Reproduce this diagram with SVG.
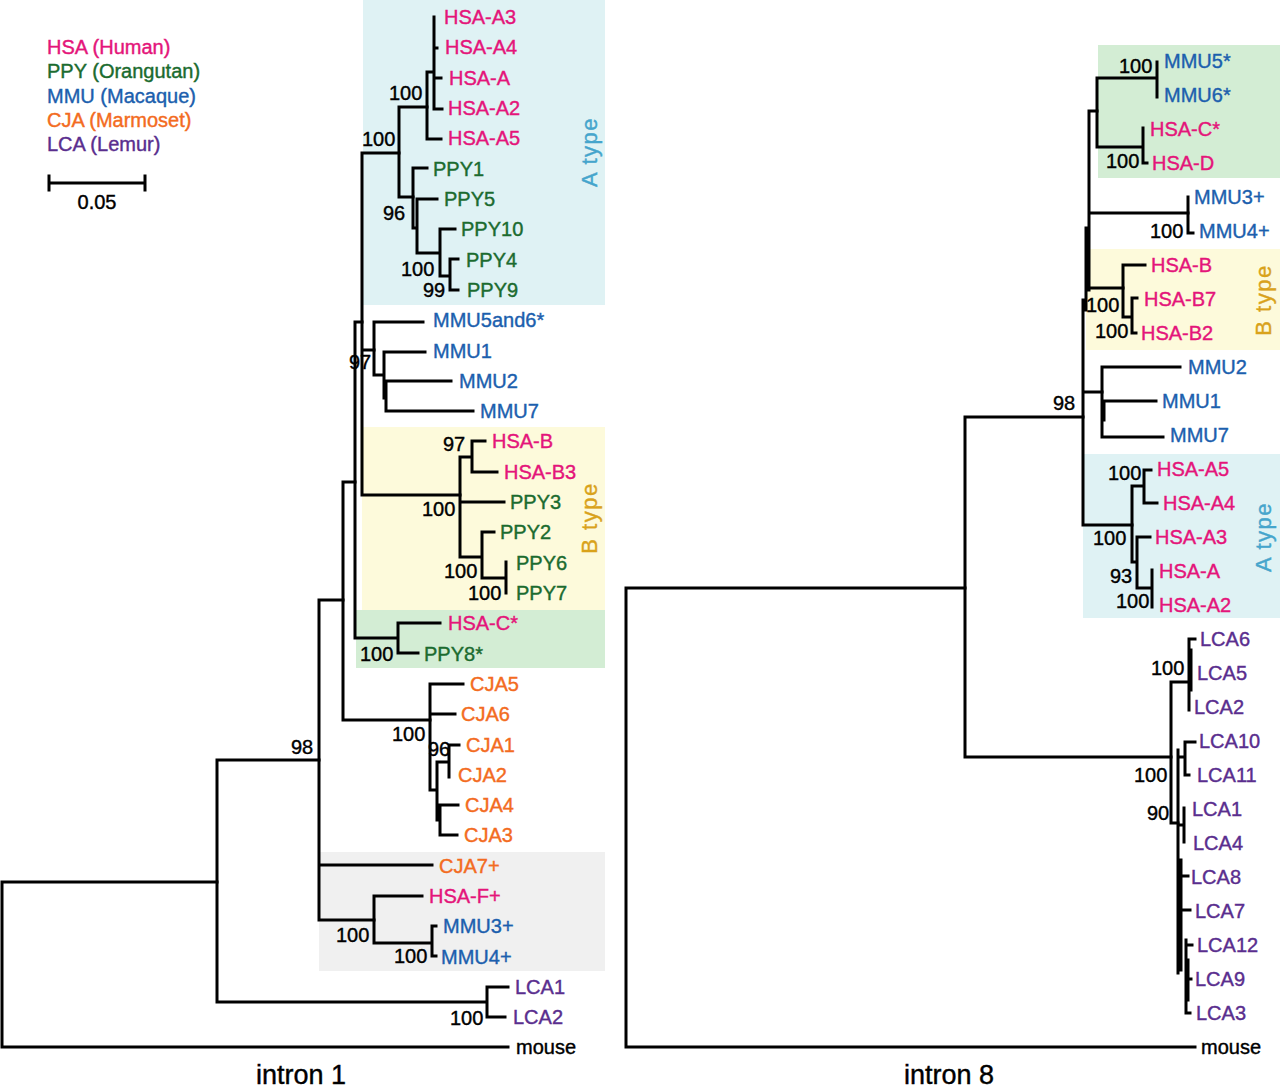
<svg xmlns="http://www.w3.org/2000/svg" width="1280" height="1088" viewBox="0 0 1280 1088">
<style>
text{font-family:"Liberation Sans",Arial,sans-serif;font-size:20px;stroke-width:0.4px}
.br{fill:none;stroke:#000;stroke-width:3;stroke-linecap:square;stroke-linejoin:miter}
.hsa{fill:#e4157a;stroke:#e4157a}.ppy{fill:#1b6b2f;stroke:#1b6b2f}.mmu{fill:#1c5fae;stroke:#1c5fae}.cja{fill:#f36b21;stroke:#f36b21}.lca{fill:#5a2e8e;stroke:#5a2e8e}.blk{fill:#000;stroke:#000}
.bs text{fill:#000;stroke:#000}
.ta{fill:#45a5cc;stroke:#45a5cc;font-size:22px;letter-spacing:1.5px}
.tb{fill:#d9a21b;stroke:#d9a21b;font-size:22px;letter-spacing:1.5px}
.ttl{fill:#000;stroke:#000;font-size:27px}
</style>
<rect width="1280" height="1088" fill="#fff"/>
<g id="boxes">
<rect x="363" y="0" width="242" height="305" fill="#dff2f4"/>
<rect x="362" y="427" width="243" height="183" fill="#fdfadb"/>
<rect x="356" y="610" width="249" height="58" fill="#d3edd4"/>
<rect x="319" y="852" width="286" height="119" fill="#f0f0f0"/>
<rect x="1098" y="45" width="182" height="133" fill="#d3edd4"/>
<rect x="1086" y="249" width="194" height="101" fill="#fdfadb"/>
<rect x="1083" y="454" width="197" height="164" fill="#dff2f4"/>
</g>
<g id="connectors" class="br">
<path d="M2 882V1047H508M2 882H217"/>
<path d="M217 760V1002M217 760H319M217 1002H487M487 987V1017M487 987H508M487 1017H505"/>
<path d="M319 600V920M319 600H343M319 865H432M319 920H374"/>
<path d="M374 896V943M374 896H422M374 943H432M432 926V956M432 926H436M432 956H436"/>
<path d="M343 482V720M343 482H355M343 720H430"/>
<path d="M430 684V790M430 684H463M430 714H455M430 790H437M437 762V820M437 762H449M449 745V777M449 745H459M437 820H440M440 805V835M440 805H458M440 835H457"/>
<path d="M355 322V638M355 322H362M355 638H398M398 623V653M398 623H440M398 653H418"/>
<path d="M362 153V495M362 153H399M362 350H374M362 495H460"/>
<path d="M399 107V197M399 107H427M399 197H413"/>
<path d="M427 72V139M427 72H434M427 139H441M434 17V109M434 48H437M434 78H441M434 109H442"/>
<path d="M413 168V228M413 168H427M413 228H417M417 199V253M417 199H437M417 253H440M440 229V276M440 229H455M440 276H450M450 259V290M450 259H458M450 290H458"/>
<path d="M374 322V375M374 322H423M374 375H384M384 352V398M384 352H425M384 398H386M386 381V411M386 381H451M386 411H473"/>
<path d="M460 457V557M460 457H472M460 502H504M460 557H482M472 441V472M472 441H485M472 472H497M482 532V578M482 532H494M482 578H506M506 562V593"/>
<path d="M626 588V1047H1195M626 588H965"/>
<path d="M965 417V757M965 417H1083M965 757H1171"/>
<path d="M1089 111V290M1086 228V310M1083 300V525M1089 111H1097M1089 213H1188M1087 288H1123M1083 392H1102M1083 525H1132"/>
<path d="M1097 78V147M1097 78H1157M1097 147H1143M1157 62V97M1143 128V163M1143 163H1147"/>
<path d="M1188 197V233M1188 233H1193"/>
<path d="M1123 265V317M1123 265H1145M1123 317H1132M1132 298V333M1132 298H1137M1132 333H1136"/>
<path d="M1102 367V437M1102 367H1180M1102 401H1156M1102 437H1163M1104 401V420"/>
<path d="M1132 486V562M1132 486H1144M1144 470V503M1144 470H1151M1144 503H1157M1132 562H1137M1137 537V588M1137 537H1150M1137 588H1152M1152 570V607"/>
<path d="M1171 682V823M1171 682H1189M1171 823H1178M1189 639V710M1189 639H1195M1191 650V690"/>
<path d="M1178 750V973M1178 757H1185M1185 742V775M1185 742H1195M1185 775H1189M1178 825H1184M1184 808V842M1181 860V970M1181 876H1188M1181 910H1190M1186 940V1013M1186 945H1192M1186 979H1191M1186 1013H1190M1188 960V1000"/>
<path d="M49 183H145M49 176V190M145 176V190"/>
</g>
<g id="legend">
<text x="47" y="54" class="hsa">HSA (Human)</text>
<text x="47" y="78" class="ppy">PPY (Orangutan)</text>
<text x="47" y="103" class="mmu">MMU (Macaque)</text>
<text x="47" y="127" class="cja">CJA (Marmoset)</text>
<text x="47" y="151" class="lca">LCA (Lemur)</text>
<text x="97" y="209" class="blk" text-anchor="middle">0.05</text>
</g>
<g id="left-leaves">
<g id="L-HSA-A3"><text x="444" y="24" class="hsa">HSA-A3</text></g>
<g id="L-HSA-A4"><text x="445" y="54" class="hsa">HSA-A4</text></g>
<g id="L-HSA-A"><text x="449" y="85" class="hsa">HSA-A</text></g>
<g id="L-HSA-A2"><text x="448" y="115" class="hsa">HSA-A2</text></g>
<g id="L-HSA-A5"><text x="448" y="145" class="hsa">HSA-A5</text></g>
<g id="L-PPY1"><text x="433" y="176" class="ppy">PPY1</text></g>
<g id="L-PPY5"><text x="444" y="206" class="ppy">PPY5</text></g>
<g id="L-PPY10"><text x="461" y="236" class="ppy">PPY10</text></g>
<g id="L-PPY4"><text x="466" y="267" class="ppy">PPY4</text></g>
<g id="L-PPY9"><text x="467" y="297" class="ppy">PPY9</text></g>
<g id="L-MMU5and6"><text x="433" y="327" class="mmu">MMU5and6*</text></g>
<g id="L-MMU1"><text x="433" y="358" class="mmu">MMU1</text></g>
<g id="L-MMU2"><text x="459" y="388" class="mmu">MMU2</text></g>
<g id="L-MMU7"><text x="480" y="418" class="mmu">MMU7</text></g>
<g id="L-HSA-B"><text x="492" y="448" class="hsa">HSA-B</text></g>
<g id="L-HSA-B3"><text x="504" y="479" class="hsa">HSA-B3</text></g>
<g id="L-PPY3"><text x="510" y="509" class="ppy">PPY3</text></g>
<g id="L-PPY2"><text x="500" y="539" class="ppy">PPY2</text></g>
<g id="L-PPY6"><text x="516" y="570" class="ppy">PPY6</text></g>
<g id="L-PPY7"><text x="516" y="600" class="ppy">PPY7</text></g>
<g id="L-HSA-C"><text x="448" y="630" class="hsa">HSA-C*</text></g>
<g id="L-PPY8"><text x="424" y="661" class="ppy">PPY8*</text></g>
<g id="L-CJA5"><text x="470" y="691" class="cja">CJA5</text></g>
<g id="L-CJA6"><text x="461" y="721" class="cja">CJA6</text></g>
<g id="L-CJA1"><text x="466" y="752" class="cja">CJA1</text></g>
<g id="L-CJA2"><text x="458" y="782" class="cja">CJA2</text></g>
<g id="L-CJA4"><text x="465" y="812" class="cja">CJA4</text></g>
<g id="L-CJA3"><text x="464" y="842" class="cja">CJA3</text></g>
<g id="L-CJA7"><text x="439" y="873" class="cja">CJA7+</text></g>
<g id="L-HSA-F"><text x="429" y="903" class="hsa">HSA-F+</text></g>
<g id="L-MMU3"><text x="443" y="933" class="mmu">MMU3+</text></g>
<g id="L-MMU4"><text x="441" y="964" class="mmu">MMU4+</text></g>
<g id="L-LCA1"><text x="515" y="994" class="lca">LCA1</text></g>
<g id="L-LCA2"><text x="513" y="1024" class="lca">LCA2</text></g>
<g id="L-mouse"><text x="516" y="1054" class="blk">mouse</text></g>
</g>
<g id="left-support" class="bs">
<text x="389" y="100">100</text>
<text x="362" y="146">100</text>
<text x="383" y="220">96</text>
<text x="401" y="276">100</text>
<text x="423" y="297">99</text>
<text x="349" y="369">97</text>
<text x="443" y="451">97</text>
<text x="422" y="516">100</text>
<text x="444" y="578">100</text>
<text x="468" y="600">100</text>
<text x="360" y="661">100</text>
<text x="392" y="741">100</text>
<text x="428" y="756">96</text>
<text x="291" y="754">98</text>
<text x="336" y="942">100</text>
<text x="394" y="963">100</text>
<text x="450" y="1025">100</text>
</g>
<g id="right-leaves">
<g id="R-MMU5"><text x="1164" y="68" class="mmu">MMU5*</text></g>
<g id="R-MMU6"><text x="1164" y="102" class="mmu">MMU6*</text></g>
<g id="R-HSA-C"><text x="1150" y="136" class="hsa">HSA-C*</text></g>
<g id="R-HSA-D"><text x="1152" y="170" class="hsa">HSA-D</text></g>
<g id="R-MMU3"><text x="1194" y="204" class="mmu">MMU3+</text></g>
<g id="R-MMU4"><text x="1199" y="238" class="mmu">MMU4+</text></g>
<g id="R-HSA-B"><text x="1151" y="272" class="hsa">HSA-B</text></g>
<g id="R-HSA-B7"><text x="1144" y="306" class="hsa">HSA-B7</text></g>
<g id="R-HSA-B2"><text x="1141" y="340" class="hsa">HSA-B2</text></g>
<g id="R-MMU2"><text x="1188" y="374" class="mmu">MMU2</text></g>
<g id="R-MMU1"><text x="1162" y="408" class="mmu">MMU1</text></g>
<g id="R-MMU7"><text x="1170" y="442" class="mmu">MMU7</text></g>
<g id="R-HSA-A5"><text x="1157" y="476" class="hsa">HSA-A5</text></g>
<g id="R-HSA-A4"><text x="1163" y="510" class="hsa">HSA-A4</text></g>
<g id="R-HSA-A3"><text x="1155" y="544" class="hsa">HSA-A3</text></g>
<g id="R-HSA-A"><text x="1159" y="578" class="hsa">HSA-A</text></g>
<g id="R-HSA-A2"><text x="1159" y="612" class="hsa">HSA-A2</text></g>
<g id="R-LCA6"><text x="1200" y="646" class="lca">LCA6</text></g>
<g id="R-LCA5"><text x="1197" y="680" class="lca">LCA5</text></g>
<g id="R-LCA2"><text x="1194" y="714" class="lca">LCA2</text></g>
<g id="R-LCA10"><text x="1199" y="748" class="lca">LCA10</text></g>
<g id="R-LCA11"><text x="1197" y="782" class="lca">LCA11</text></g>
<g id="R-LCA1"><text x="1192" y="816" class="lca">LCA1</text></g>
<g id="R-LCA4"><text x="1193" y="850" class="lca">LCA4</text></g>
<g id="R-LCA8"><text x="1191" y="884" class="lca">LCA8</text></g>
<g id="R-LCA7"><text x="1195" y="918" class="lca">LCA7</text></g>
<g id="R-LCA12"><text x="1197" y="952" class="lca">LCA12</text></g>
<g id="R-LCA9"><text x="1195" y="986" class="lca">LCA9</text></g>
<g id="R-LCA3"><text x="1196" y="1020" class="lca">LCA3</text></g>
<g id="R-mouse"><text x="1201" y="1054" class="blk">mouse</text></g>
</g>
<g id="right-support" class="bs">
<text x="1119" y="73">100</text>
<text x="1106" y="168">100</text>
<text x="1150" y="238">100</text>
<text x="1086" y="312">100</text>
<text x="1095" y="338">100</text>
<text x="1053" y="410">98</text>
<text x="1108" y="480">100</text>
<text x="1093" y="545">100</text>
<text x="1110" y="583">93</text>
<text x="1116" y="608">100</text>
<text x="1151" y="675">100</text>
<text x="1134" y="782">100</text>
<text x="1147" y="820">90</text>
</g>
<g id="group-labels">
<text class="ta" text-anchor="middle" transform="translate(597,152) rotate(-90)">A type</text>
<text class="tb" text-anchor="middle" transform="translate(597,518) rotate(-90)">B type</text>
<text class="tb" text-anchor="middle" transform="translate(1271,300) rotate(-90)">B type</text>
<text class="ta" text-anchor="middle" transform="translate(1271,537) rotate(-90)">A type</text>
</g>
<g id="titles">
<text x="301" y="1084" class="ttl" text-anchor="middle">intron 1</text>
<text x="949" y="1084" class="ttl" text-anchor="middle">intron 8</text>
</g>
</svg>
